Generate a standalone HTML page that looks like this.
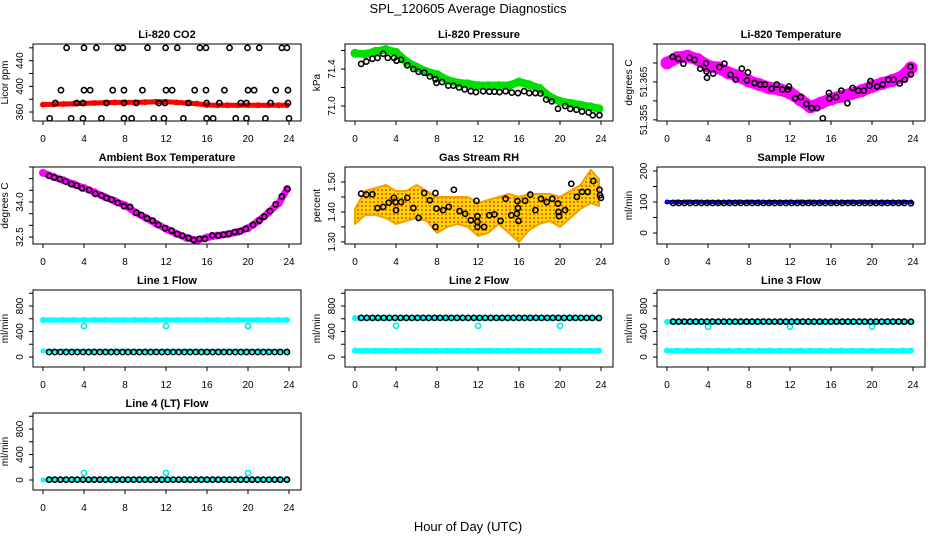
<!DOCTYPE html>
<html><head><meta charset="utf-8">
<style>
html,body{margin:0;padding:0;background:#fff;}
svg{display:block;font-family:"Liberation Sans",Arial,sans-serif;}
</style></head>
<body>
<svg id="chart" width="936" height="540" viewBox="0 0 936 540" xmlns="http://www.w3.org/2000/svg">
<defs>
<pattern id="rhpat" width="4" height="4" patternUnits="userSpaceOnUse">
<rect width="4" height="4" fill="#ffd800"/>
<circle cx="2" cy="2" r="1.1" fill="#f06000"/>
</pattern>
</defs>
<text x="468" y="13" text-anchor="middle" font-size="13">SPL_120605  Average Diagnostics</text>
<text x="468" y="531" text-anchor="middle" font-size="13">Hour of Day (UTC)</text>
</svg>
<script>
// ---- shared data ----
const HOURS = [0,1,2,3,4,5,6,7,8,9,10,11,12,13,14,15,16,17,18,19,20,21,22,23,23.8];
const H = [0.6,1.15,1.7,2.25,2.8,3.35,3.9,4.45,5.0,5.55,6.1,6.65,7.2,7.75,8.3,8.85,9.4,9.95,10.5,11.05,11.6,12.15,12.7,13.25,13.8,14.35,14.9,15.45,16.0,16.55,17.1,17.65,18.2,18.75,19.3,19.85,20.4,20.95,21.5,22.05,22.6,23.15,23.8];
const X_TICKS = [0,4,8,12,16,20,24];

// CO2
const co2Hours = [2.3,4.0,5.2,7.3,7.8,10.2,11.96,13.1,15.3,15.9,18.2,19.95,21.1,23.3,23.8,
 1.75,4.0,4.6,6.8,7.9,9.7,12.0,12.6,14.8,15.9,17.7,20.0,20.6,22.7,23.9,
 1.2,3.3,3.9,6.2,7.9,9.1,11.3,11.9,14.2,15.96,17.2,19.3,19.85,22.2,23.9,
 0.65,2.75,3.9,5.7,7.9,8.65,10.8,11.8,13.7,15.96,16.6,18.8,19.85,21.7,24.0];
const co2Vals = [460,460,460,460,460,460,460,460,460,460,460,460,460,460,460,
 394,394,394,394,394,394,394,394,394,394,394,394,394,394,394,
 374,374,374,374,374,374,374,374,374,374,374,374,374,374,374,
 350,350,350,350,350,350,350,350,350,350,350,350,350,350,350];
const co2Red = [371.5,372,372.5,373,373.5,374,374.5,375,375,375,375.5,376,376,375,374,373,371,370.5,370.5,370.5,370.5,370.5,370.5,370.5,370.5];

// Pressure
const presHours = [0.6,1.1,1.7,2.2,2.75,3.2,3.8,4.05,4.5,5.1,5.7,6.2,6.75,7.3,7.85,7.95,8.5,9.1,9.6,10.15,10.7,11.3,11.8,12.5,13.1,13.6,14.1,14.7,15.3,15.9,16.5,17.0,17.6,18.1,18.65,19.2,19.8,20.5,21.0,21.6,22.15,22.8,23.2,23.85];
const presVals = [71.455,71.48,71.51,71.52,71.565,71.52,71.52,71.49,71.5,71.44,71.40,71.37,71.36,71.32,71.29,71.25,71.26,71.22,71.22,71.2,71.18,71.16,71.15,71.16,71.155,71.155,71.15,71.16,71.145,71.14,71.16,71.14,71.14,71.135,71.07,71.05,70.97,71.0,70.97,70.96,70.94,70.93,70.9,70.9];
const presGreen = [71.57,71.56,71.59,71.61,71.58,71.48,71.42,71.37,71.34,71.28,71.25,71.24,71.22,71.22,71.22,71.22,71.26,71.23,71.19,71.10,71.05,71.03,71.01,70.99,70.97];

// Li-820 temperature
const tHours = [0.55,1.1,1.6,2.2,2.7,3.25,3.8,3.85,3.9,4.5,5.1,5.6,6.2,6.7,7.3,7.8,7.9,8.55,9.1,9.55,10.2,10.7,11.25,11.8,11.9,12.5,13.05,13.6,14.1,14.65,15.2,15.8,15.85,16.5,17.0,17.6,18.1,18.65,19.2,19.75,19.85,20.5,21.05,21.6,22.1,22.7,23.2,23.75,23.8];
const tVals = [51.3716,51.3711,51.3698,51.3714,51.3708,51.3685,51.3699,51.3678,51.3661,51.3672,51.3689,51.3698,51.3669,51.3656,51.3685,51.3654,51.3675,51.3647,51.3643,51.3643,51.3632,51.3643,51.363,51.363,51.3638,51.3607,51.3610,51.3592,51.3581,51.3581,51.3554,51.3621,51.3606,51.361,51.3627,51.3594,51.3634,51.3627,51.3627,51.364,51.3652,51.3638,51.3643,51.3656,51.3656,51.3646,51.3656,51.369,51.367];
const tMagenta = [51.3700,51.3714,51.3718,51.3709,51.3692,51.3687,51.3674,51.3665,51.3652,51.3643,51.3634,51.3630,51.3621,51.3603,51.3584,51.3594,51.3605,51.3612,51.3619,51.3627,51.3638,51.3646,51.3654,51.3665,51.3687];

// Ambient box temperature
const aHours = [0.6,1.1,1.65,2.2,2.75,3.3,3.8,4.5,5.1,5.7,6.2,6.7,7.3,7.9,8.5,9.1,9.6,10.15,10.7,11.25,11.9,12.55,13.1,13.6,14.2,14.7,15.25,15.8,16.5,17.1,17.6,18.15,18.7,19.25,19.8,20.5,21.1,21.6,22.15,22.7,23.3,23.85];
const aVals = [35.12,35.05,34.98,34.88,34.77,34.70,34.59,34.52,34.35,34.28,34.17,34.10,33.96,33.82,33.79,33.54,33.44,33.30,33.20,33.02,32.88,32.77,32.63,32.56,32.46,32.37,32.42,32.42,32.57,32.56,32.60,32.64,32.71,32.74,32.85,33.02,33.20,33.37,33.61,33.90,34.24,34.56];
const aMagenta = [35.25,35.08,34.93,34.76,34.6,34.42,34.22,34.04,33.86,33.56,33.33,33.08,32.85,32.64,32.46,32.36,32.48,32.56,32.62,32.72,32.88,33.18,33.55,33.95,34.55];

// Gas stream RH
const rhHours = [0.6,1.1,1.7,2.2,2.75,3.3,3.8,3.95,4.0,4.5,5.1,5.7,6.2,6.75,7.3,7.85,7.85,7.95,8.6,9.15,9.65,10.2,10.75,11.3,11.85,11.95,11.95,11.95,12.6,13.1,13.6,14.2,14.7,15.25,15.8,15.85,15.9,15.95,16.6,17.1,17.6,18.15,18.7,19.25,19.8,19.85,19.9,20.5,21.1,21.65,22.15,22.7,23.25,23.85,23.9,24.0];
const rhVals = [1.461,1.458,1.459,1.413,1.417,1.431,1.447,1.433,1.406,1.433,1.447,1.413,1.380,1.463,1.439,1.463,1.350,1.411,1.406,1.417,1.474,1.403,1.394,1.372,1.437,1.386,1.367,1.350,1.350,1.389,1.392,1.370,1.444,1.389,1.394,1.436,1.413,1.370,1.437,1.458,1.406,1.444,1.433,1.444,1.428,1.400,1.386,1.406,1.494,1.450,1.467,1.467,1.503,1.474,1.456,1.447];
const rhUpper = [1.41,1.47,1.48,1.49,1.47,1.47,1.49,1.47,1.45,1.45,1.45,1.45,1.43,1.44,1.45,1.46,1.45,1.46,1.46,1.46,1.45,1.47,1.49,1.54,1.51];
const rhLower = [1.36,1.39,1.39,1.38,1.36,1.37,1.38,1.37,1.33,1.35,1.36,1.35,1.32,1.33,1.36,1.33,1.30,1.34,1.36,1.37,1.35,1.38,1.41,1.43,1.42];

// Flows
const sampleBlue = [100,100,100,100,100,100,100,100,100,100,100,100,100,100,100,100,100,100,100,100,100,100,100,100,100];
const sampleBlack = [97,97,97,97,97,97,97,97,97,97,97,97,97,97,97,97,97,97,97,97,97,97,97,97,97,97,97,97,97,97,97,97,97,97,97,97,97,97,97,97,97,97,96];
const outlierHours = [4,12,20];
const line1High = [580,580,580,580,580,580,580,580,580,580,580,580,580,580,580,580,580,580,580,580,580,580,580,580,580];
const line1Low = [95,95,95,95,95,95,95,95,95,95,95,95,95,95,95,95,95,95,95,95,95,95,95,95,95];
const line1Black = [78,78,78,78,78,78,78,78,78,78,78,78,78,78,78,78,78,78,78,78,78,78,78,78,78,78,78,78,78,78,78,78,78,78,78,78,78,78,78,78,78,78,78];
const line1Out = [486,486,486];
const line2High = [610,610,610,610,610,610,610,610,610,610,610,610,610,610,610,610,610,610,610,610,610,610,610,610,610];
const line2Low = [100,100,100,100,100,100,100,100,100,100,100,100,100,100,100,100,100,100,100,100,100,100,100,100,100];
const line2Black = [614,614,614,614,614,614,614,614,614,614,614,614,614,614,614,614,614,614,614,614,614,614,614,614,614,614,614,614,614,614,614,614,614,614,614,614,614,614,614,614,614,614,612];
const line2Out = [490,490,490];
const line3High = [550,550,550,550,550,550,550,550,550,550,550,550,550,550,550,550,550,550,550,550,550,550,550,550,550];
const line3Low = [99,99,99,99,99,99,99,99,99,99,99,99,99,99,99,99,99,99,99,99,99,99,99,99,99];
const line3Black = [555,555,555,555,555,555,555,555,555,555,555,555,555,555,555,555,555,555,555,555,555,555,555,555,555,555,555,555,555,555,555,555,555,555,555,555,555,555,555,555,555,555,553];
const line3Out = [475,475,475];
const line4Cyan = [2,2,2,2,2,2,2,2,2,2,2,2,2,2,2,2,2,2,2,2,2,2,2,2,2];
const line4Black = [5,5,5,5,5,5,5,5,5,5,5,5,5,5,5,5,5,5,5,5,5,5,5,5,5,5,5,5,5,5,5,5,5,5,5,5,5,5,5,5,5,5,5];
const line4Out = [110,110,110];

const FLOW_TICKS = [0,200,400,600,800,1000];
const FLOW_LABELS = ['0','','400','','800',''];

const NS = 'http://www.w3.org/2000/svg';
const svg = document.getElementById('chart');
function mk(tag, attrs, parent){
  const e = document.createElementNS(NS, tag);
  for (const k in attrs) e.setAttribute(k, attrs[k]);
  parent.appendChild(e);
  return e;
}

function panel(col, row, name, title, ylab, ylim, yticks, ylabels){
  const left = 33 + col*312, right = left + 268;
  const top = 44 + row*123, bottom = top + 77;
  const g = mk('g', {}, svg);
  
  
  const sx = h => left + 10 + h*(246/24);
  const sy = v => bottom - (v - ylim[0])/(ylim[1]-ylim[0])*(bottom-top);
  const clip = mk('clipPath', {id: 'clip-'+name}, g);
  mk('rect', {x:left, y:top, width:268, height:77}, clip);
  const plot = mk('g', {'clip-path':'url(#clip-'+name+')'}, g);
  
  
  // title
  const t = mk('text', {x:(left+right)/2, y:top-6, 'text-anchor':'middle', 'font-size':11, 'font-weight':'bold'}, g);
  t.textContent = title;
  
  
  // y label
  const yl = mk('text', {x:0, y:0, 'text-anchor':'middle', 'font-size':10, transform:'translate('+(left-25)+','+((top+bottom)/2)+') rotate(-90)'}, g);
  yl.textContent = ylab;
  
  
  // x axis
  const xa = mk('g', {stroke:'#000', 'stroke-width':1}, g);
  
  
  mk('line', {x1:sx(0), x2:sx(24), y1:bottom, y2:bottom}, xa);
  X_TICKS.forEach(h => {
    mk('line', {x1:sx(h), x2:sx(h), y1:bottom, y2:bottom+4}, xa);
    const tl = mk('text', {x:sx(h), y:bottom+21, 'text-anchor':'middle', 'font-size':10, stroke:'none', fill:'#000'}, xa);
    tl.textContent = String(h);
    
    
  });
  // y axis
  const ya = mk('g', {stroke:'#000', 'stroke-width':1}, g);
  
  
  yticks.forEach((v,i) => {
    mk('line', {x1:left-4, x2:left, y1:sy(v), y2:sy(v)}, ya);
    if (ylabels[i]) {
      const tl = mk('text', {x:0, y:0, 'text-anchor':'middle', 'font-size':10, stroke:'none', fill:'#000', transform:'translate('+(left-10)+','+sy(v)+') rotate(-90)'}, ya);
      tl.textContent = ylabels[i];
      
      
    }
  });
  // box
  const box = mk('rect', {x:left, y:top, width:268, height:77, fill:'none', stroke:'#000', 'stroke-width':1}, g);
  
  
  return {g: plot, sx, sy};
}

function band(p, xs, ys, color, w, name){
  const pts = xs.map((h,i) => p.sx(h).toFixed(1)+','+p.sy(ys[i]).toFixed(1)).join(' ');
  const pl = mk('polyline', {points:pts, fill:'none', stroke:color, 'stroke-width':w, 'stroke-linecap':'round', 'stroke-linejoin':'round'}, p.g);
  
  
  xs.forEach((h,i) => {
    const c = mk('circle', {cx:p.sx(h), cy:p.sy(ys[i]), r:w/2+0.5, fill:color}, p.g);
    
    
  });
}
function points(p, xs, ys, color, name, r, sw){
  xs.forEach((h,i) => {
    const c = mk('circle', {cx:p.sx(h), cy:p.sy(ys[i]), r:r||2.6, fill:'none', stroke:color, 'stroke-width':sw||1.6}, p.g);
    
    
  });
}

// Panel 1: CO2
let p = panel(0,0,'co2','Li-820 CO2','Licor ppm',[346,466],[360,380,400,420,440,460],['360','','400','','440','']);
band(p, HOURS, co2Red, '#ff0000', 5, 'co2-red-series');
points(p, co2Hours, co2Vals, '#000', 'co2-point');

// Panel 2: Pressure
p = panel(1,0,'pressure','Li-820 Pressure','kPa',[70.838,71.67],[71.0,71.2,71.4,71.6],['71.0','','71.4','']);
band(p, HOURS, presGreen, '#00e000', 8, 'pressure-green-series');
points(p, presHours, presVals, '#000', 'pressure-point');

// Panel 3: Li-820 temperature
p = panel(2,0,'li820-temp','Li-820 Temperature','degrees C',[51.3547,51.375],[51.355,51.36,51.365,51.37,51.375],['51.355','','51.365','','']);
band(p, HOURS, tMagenta, '#ff00ff', 12, 'li820-temp-magenta-series');
points(p, tHours, tVals, '#000', 'li820-temp-point');

// Panel 4: Ambient
p = panel(0,1,'ambient','Ambient Box Temperature','degrees C',[32.2,35.5],[32.5,33.0,33.5,34.0,34.5,35.0,35.5],['32.5','','','34.0','','','']);
band(p, HOURS, aMagenta, '#ff00ff', 7, 'ambient-magenta-series');
points(p, aHours, aVals, '#000', 'ambient-point');

// Panel 5: RH
p = panel(1,1,'rh','Gas Stream RH','percent',[1.293,1.55],[1.30,1.35,1.40,1.45,1.50],['1.30','','1.40','','1.50']);
{
  const up = HOURS.map((h,i) => p.sx(h).toFixed(1)+','+p.sy(rhUpper[i]).toFixed(1));
  const lo = HOURS.map((h,i) => p.sx(h).toFixed(1)+','+p.sy(rhLower[i]).toFixed(1)).reverse();
  const poly = mk('polygon', {points: up.concat(lo).join(' '), fill:'url(#rhpat)', stroke:'#f5a000', 'stroke-width':2, 'stroke-linejoin':'round'}, p.g);
  
  
}
points(p, rhHours, rhVals, '#000', 'rh-point');

// Panel 6: Sample flow
p = panel(2,1,'sample-flow','Sample Flow','ml/min',[-35.5,213],[0,50,100,150,200],['0','','100','','200']);
band(p, HOURS, sampleBlue, '#0000ff', 4, 'sample-flow-blue-series');
points(p, H, sampleBlack, '#000', 'sample-flow-point');

// Panel 7: Line 1
p = panel(0,2,'line1','Line 1 Flow','ml/min',[-157,1051],FLOW_TICKS,FLOW_LABELS);
band(p, HOURS, line1High, '#00ffff', 5, 'line1-cyan-high');
band(p, HOURS, line1Low, '#00ffff', 4, 'line1-cyan-low');
points(p, outlierHours, line1Out, '#00e8e8', 'line1-outlier');
points(p, H, line1Black, '#000', 'line1-point');

// Panel 8: Line 2
p = panel(1,2,'line2','Line 2 Flow','ml/min',[-157,1051],FLOW_TICKS,FLOW_LABELS);
band(p, HOURS, line2High, '#00ffff', 5, 'line2-cyan-high');
band(p, HOURS, line2Low, '#00ffff', 5, 'line2-cyan-low');
points(p, outlierHours, line2Out, '#00e8e8', 'line2-outlier');
points(p, H, line2Black, '#000', 'line2-point');

// Panel 9: Line 3
p = panel(2,2,'line3','Line 3 Flow','ml/min',[-157,1051],FLOW_TICKS,FLOW_LABELS);
band(p, HOURS, line3High, '#00ffff', 5, 'line3-cyan-high');
band(p, HOURS, line3Low, '#00ffff', 5, 'line3-cyan-low');
points(p, outlierHours, line3Out, '#00e8e8', 'line3-outlier');
points(p, H, line3Black, '#000', 'line3-point');

// Panel 10: Line 4
p = panel(0,3,'line4','Line 4 (LT) Flow','ml/min',[-157,1051],FLOW_TICKS,FLOW_LABELS);
band(p, HOURS, line4Cyan, '#00ffff', 4, 'line4-cyan');
points(p, outlierHours, line4Out, '#00e8e8', 'line4-outlier');
points(p, H, line4Black, '#000', 'line4-point');
</script>
</body></html>
